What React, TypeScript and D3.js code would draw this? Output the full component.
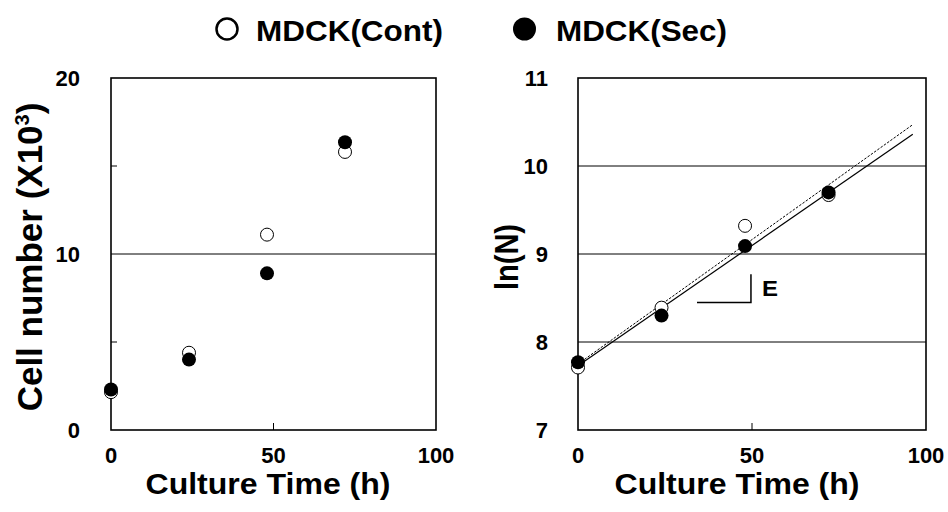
import React from 'react'
import * as d3 from 'd3'

// culture time (h)
const hours = [0, 24, 48, 72]
// cell number (x10^3)
const cellsCont = [2.15, 4.39, 11.1, 15.8]
const cellsSec = [2.3, 4.0, 8.9, 16.35]
// ln(N)
const lnCont = [7.71, 8.39, 9.32, 9.67]
const lnSec = [7.77, 8.3, 9.09, 9.7]
// fitted lines, end points
const fitHours = [0, 96.2]
const fitCont = [7.75, 10.47]
const fitSec = [7.73, 10.36]

const xTicks = [0, 50, 100]
const cellTicks = [0, 10, 20]
const cellMinor = [5, 15]
const lnTicks = [7, 8, 9, 10, 11]
const lnGrid = [8, 9, 10]

// slope mark "E"
const slopeX = [34.2, 49.7]
const slopeY = [8.45, 8.77]

const font = "'Liberation Sans', Arial, sans-serif"

const top = 78
const bottom = 430

export default function App() {
  const xL = d3.scaleLinear().domain([0, 100]).range([111, 436])
  const yL = d3.scaleLinear().domain([0, 20]).range([bottom, top])
  const xR = d3.scaleLinear().domain([0, 100]).range([578, 926])
  const yR = d3.scaleLinear().domain([7, 11]).range([bottom, top])

  const line = d3.line<[number, number]>()
    .x(d => xR(d[0]))
    .y(d => yR(d[1]))

  const pts = (ys: number[]) => hours.map((h, i) => [h, ys[i]] as [number, number])
  const fit = (ys: number[]) => fitHours.map((h, i) => [h, ys[i]] as [number, number])

  const openDots = (x: any, y: any, ys: number[]) =>
    pts(ys).map((d, i) => (
      <circle key={'o' + i} cx={x(d[0])} cy={y(d[1])} r={6.5}
        fill="white" stroke="black" strokeWidth={1} />
    ))
  const fullDots = (x: any, y: any, ys: number[]) =>
    pts(ys).map((d, i) => (
      <circle key={'f' + i} cx={x(d[0])} cy={y(d[1])} r={7} fill="black" />
    ))

  const xAxis = (x: any) => (
    <g>
      {xTicks.map(t => (
        <g key={t}>
          {t > 0 && t < 100 && (
            <line x1={x(t)} x2={x(t)} y1={bottom} y2={bottom - 7} stroke="black" strokeWidth={1} />
          )}
          <text x={x(t)} y={463} textAnchor="middle" fontSize={22} fontWeight="bold"
            fontFamily={font}>{t}</text>
        </g>
      ))}
    </g>
  )

  return (
    <div style={{ position: 'absolute', left: 0, top: 0 }}>
      <svg width={948} height={512} style={{ display: 'block', background: 'white' }}>
        {/* legend */}
        <circle cx={227} cy={29} r={10.5} fill="white" stroke="black" strokeWidth={2.5} />
        <text x={256} y={41} fontSize={30} fontWeight="bold" fontFamily={font}
          textLength={187} lengthAdjust="spacingAndGlyphs">MDCK(Cont)</text>
        <circle cx={524.5} cy={29} r={11.5} fill="black" />
        <text x={556} y={41} fontSize={30} fontWeight="bold" fontFamily={font}
          textLength={171} lengthAdjust="spacingAndGlyphs">MDCK(Sec)</text>

        {/* left panel */}
        <g>
          <line x1={xL(0)} x2={xL(100)} y1={yL(10)} y2={yL(10)} stroke="black" strokeWidth={1} />
          {cellMinor.map(t => (
            <line key={t} x1={xL(0)} x2={xL(0) + 6} y1={yL(t)} y2={yL(t)} stroke="black" strokeWidth={1} />
          ))}
          <rect x={xL(0)} y={top} width={xL(100) - xL(0)} height={bottom - top}
            fill="none" stroke="black" strokeWidth={1.6} />
          {cellTicks.map(t => (
            <text key={t} x={80} y={yL(t)} dy="0.36em" textAnchor="end" fontSize={22}
              fontWeight="bold" fontFamily={font}>{t}</text>
          ))}
          {xAxis(xL)}
          {openDots(xL, yL, cellsCont)}
          {fullDots(xL, yL, cellsSec)}
          <text transform="translate(42,257) rotate(-90)" textAnchor="middle"
            fontSize={35} fontWeight="bold" fontFamily={font}>
            Cell number (X10<tspan fontSize={20} dy={-13}>3</tspan><tspan dy={13}>)</tspan>
          </text>
          <text x={268} y={494} textAnchor="middle" fontSize={29} fontWeight="bold"
            fontFamily={font} textLength={245} lengthAdjust="spacingAndGlyphs">Culture Time (h)</text>
        </g>

        {/* right panel */}
        <g>
          {lnGrid.map(t => (
            <line key={t} x1={xR(0)} x2={xR(100)} y1={yR(t)} y2={yR(t)} stroke="black" strokeWidth={1} />
          ))}
          <rect x={xR(0)} y={top} width={xR(100) - xR(0)} height={bottom - top}
            fill="none" stroke="black" strokeWidth={1.6} />
          {lnTicks.map(t => (
            <text key={t} x={548} y={yR(t)} dy="0.36em" textAnchor="end" fontSize={22}
              fontWeight="bold" fontFamily={font}>{t}</text>
          ))}
          {xAxis(xR)}
          <path d={line(fit(fitCont)) || ''} fill="none" stroke="black" strokeWidth={1}
            strokeDasharray="2.5,1.5" />
          <path d={line(fit(fitSec)) || ''} fill="none" stroke="black" strokeWidth={1.2} />
          {openDots(xR, yR, lnCont)}
          {fullDots(xR, yR, lnSec)}
          <path d={line([[slopeX[0], slopeY[0]], [slopeX[1], slopeY[0]], [slopeX[1], slopeY[1]]]) || ''}
            fill="none" stroke="black" strokeWidth={1.5} />
          <text x={xR(slopeX[1]) + 11} y={296} fontSize={22} fontWeight="bold" fontFamily={font}
            textLength={16} lengthAdjust="spacingAndGlyphs">E</text>
          <text transform="translate(518,257) scale(1.15,1) rotate(-90)" textAnchor="middle"
            fontSize={29} fontWeight="bold" fontFamily={font}>ln(N)</text>
          <text x={737} y={494} textAnchor="middle" fontSize={29} fontWeight="bold"
            fontFamily={font} textLength={245} lengthAdjust="spacingAndGlyphs">Culture Time (h)</text>
        </g>
      </svg>
    </div>
  )
}
